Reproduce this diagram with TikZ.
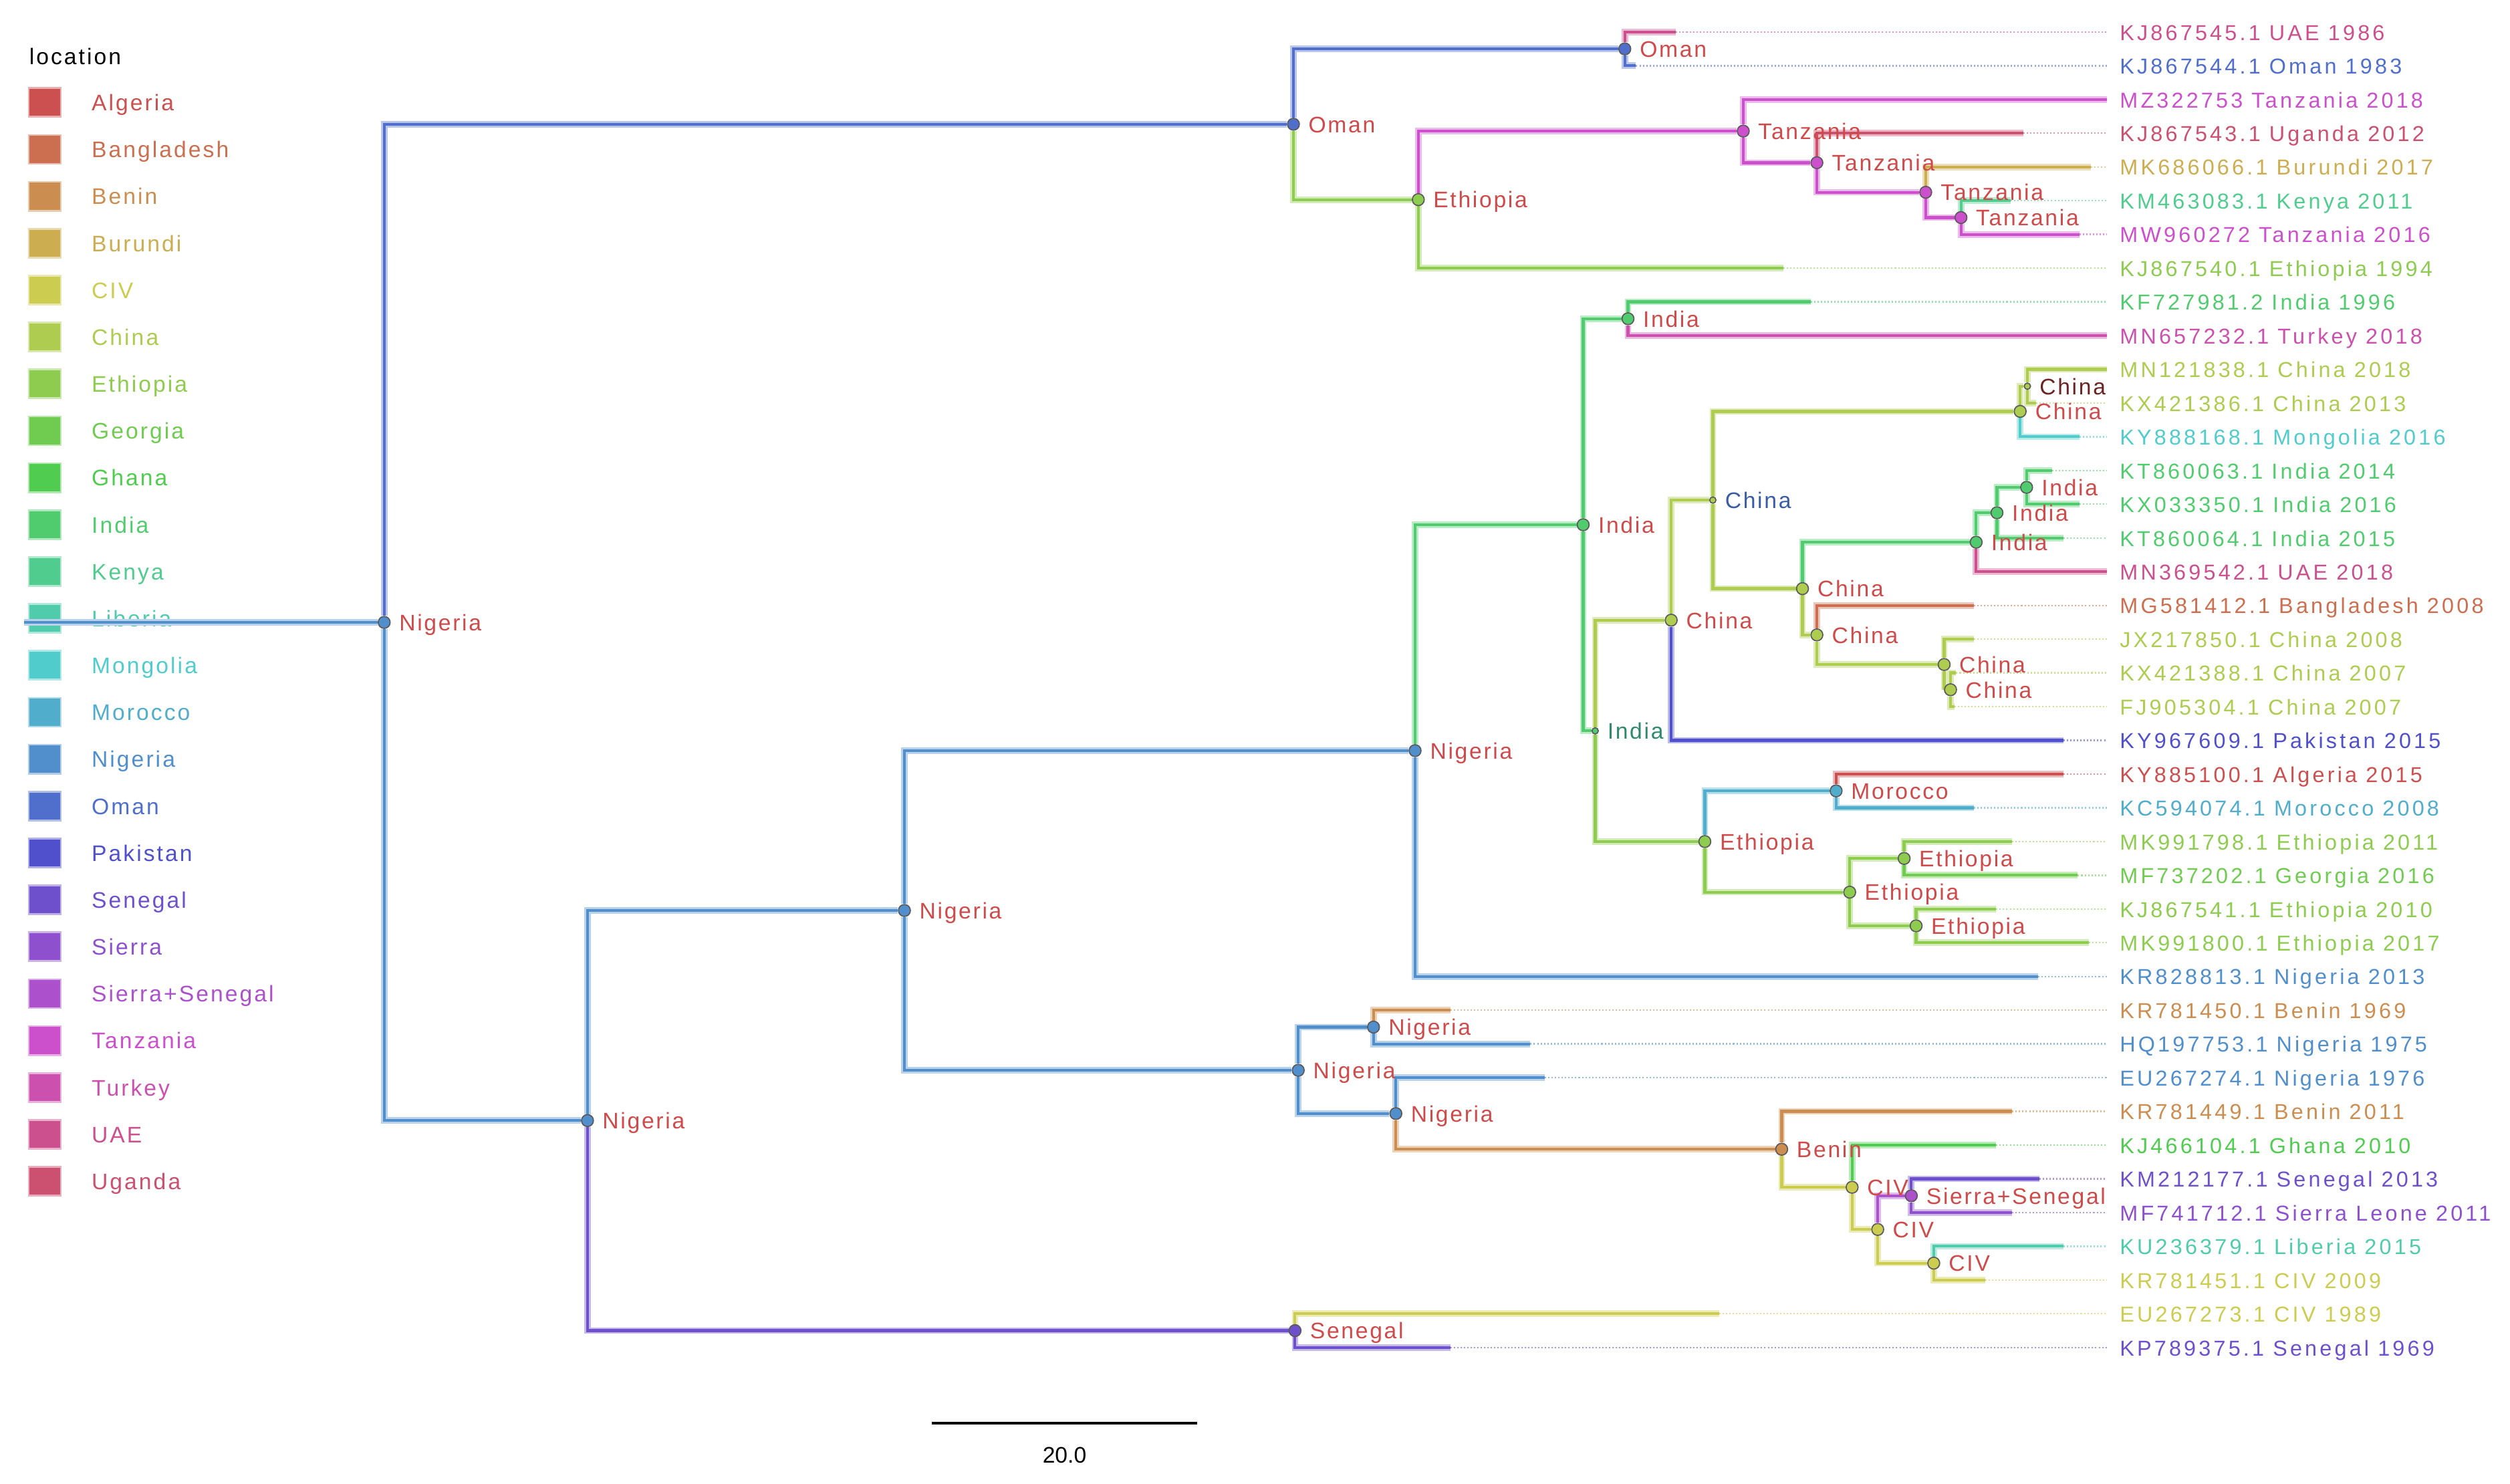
\documentclass[tikz,border=0pt]{standalone}
\usepackage{fontspec}
\setmainfont{Liberation Sans}
\newfontfamily\tipfont[LetterSpace=13]{Liberation Sans}
\newfontfamily\labfont[LetterSpace=8]{Liberation Sans}
\newfontfamily\legfont[LetterSpace=9]{Liberation Sans}
\usetikzlibrary{backgrounds}

% location colours (hue steps of 15 degrees)
\definecolor{cAlgeria}{RGB}{204,80,80}
\definecolor{cBangladesh}{RGB}{204,111,80}
\definecolor{cBenin}{RGB}{204,142,80}
\definecolor{cBurundi}{RGB}{204,173,80}
\definecolor{cCIV}{RGB}{204,204,80}
\definecolor{cChina}{RGB}{173,204,80}
\definecolor{cEthiopia}{RGB}{142,204,80}
\definecolor{cGeorgia}{RGB}{111,204,80}
\definecolor{cGhana}{RGB}{80,204,80}
\definecolor{cIndia}{RGB}{80,204,111}
\definecolor{cKenya}{RGB}{80,204,142}
\definecolor{cLiberia}{RGB}{80,204,173}
\definecolor{cMongolia}{RGB}{80,204,204}
\definecolor{cMorocco}{RGB}{80,173,204}
\definecolor{cNigeria}{RGB}{80,142,204}
\definecolor{cOman}{RGB}{80,111,204}
\definecolor{cPakistan}{RGB}{80,80,204}
\definecolor{cSenegal}{RGB}{111,80,204}
\definecolor{cSierra}{RGB}{142,80,204}
\definecolor{cSierraSenegal}{RGB}{173,80,204}
\definecolor{cTanzania}{RGB}{204,80,204}
\definecolor{cTurkey}{RGB}{204,80,173}
\definecolor{cUAE}{RGB}{204,80,142}
\definecolor{cUganda}{RGB}{204,80,111}
\definecolor{cLab}{HTML}{CF4A4A}
\definecolor{cLabBlue}{HTML}{3A5CA8}
\definecolor{cLabTeal}{HTML}{2E8A6A}
\definecolor{cLabDark}{HTML}{6A2424}

\tikzset{
  br/.style={draw=#1, line width=1.25pt, preaction={draw=#1!40, line width=2.9pt}},
  leader/.style={draw=#1!60, line width=0.7pt, dash pattern=on 0.6pt off 0.9pt, shorten >=2mm},
  inode/.style={circle, draw=black!65, line width=0.5pt, fill=#1, inner sep=0pt, minimum size=5.3pt},
  snode/.style={inode=#1, minimum size=2.8pt},
  nlab/.style={font=\labfont\fontsize{10}{12}\selectfont, text=cLab, inner sep=0.6pt, anchor=mid west, yshift=-1pt},
  tiplab/.style={font=\tipfont\fontsize{9.6}{11}\selectfont, inner sep=0pt, anchor=mid west, yshift=-1pt},
  legbox/.style={minimum width=0.5cm, minimum height=0.45cm, inner sep=0pt, line width=0.8pt},
  leglab/.style={font=\legfont\fontsize{10}{12}\selectfont, inner sep=0pt, anchor=mid west, yshift=-1pt},
  every label/.style={label distance=3pt}
}

\begin{document}
\begin{tikzpicture}[x=0.025cm, y=-0.025cm]
\useasboundingbox (0,0) rectangle (1568,927);

% legend
\node[leglab, text=black] (ktitle) at (18,35) {location};
\foreach \name/\col [count=\i from 0] in {Algeria/cAlgeria, Bangladesh/cBangladesh,
    Benin/cBenin, Burundi/cBurundi, CIV/cCIV, China/cChina, Ethiopia/cEthiopia,
    Georgia/cGeorgia, Ghana/cGhana, India/cIndia, Kenya/cKenya, Liberia/cLiberia,
    Mongolia/cMongolia, Morocco/cMorocco, Nigeria/cNigeria, Oman/cOman,
    Pakistan/cPakistan, Senegal/cSenegal, Sierra/cSierra, Sierra+Senegal/cSierraSenegal,
    Tanzania/cTanzania, Turkey/cTurkey, UAE/cUAE, Uganda/cUganda}
{
  \node[legbox, fill=\col, draw=\col!45] (k\i) at (28,{64+\i*29.3}) {};
  \node[leglab, text=\col] (kl\i) at (57,{64+\i*29.3}) {\name};
}

% tips: row / end of branch / colour / name
\foreach \i/\ex/\col/\txt in {
  1/1047/cUAE/KJ867545.1 UAE 1986, 2/1022/cOman/KJ867544.1 Oman 1983,
  3/1316/cTanzania/MZ322753 Tanzania 2018, 4/1264/cUganda/KJ867543.1 Uganda 2012,
  5/1306/cBurundi/MK686066.1 Burundi 2017, 6/1256/cKenya/KM463083.1 Kenya 2011,
  7/1299/cTanzania/MW960272 Tanzania 2016, 8/1114/cEthiopia/KJ867540.1 Ethiopia 1994,
  9/1131/cIndia/KF727981.2 India 1996, 10/1316/cTurkey/MN657232.1 Turkey 2018,
  11/1316/cChina/MN121838.1 China 2018, 12/1272/cChina/KX421386.1 China 2013,
  13/1299/cMongolia/KY888168.1 Mongolia 2016, 14/1282/cIndia/KT860063.1 India 2014,
  15/1299/cIndia/KX033350.1 India 2016, 16/1289/cIndia/KT860064.1 India 2015,
  17/1316/cUAE/MN369542.1 UAE 2018, 18/1233/cBangladesh/MG581412.1 Bangladesh 2008,
  19/1233/cChina/JX217850.1 China 2008, 20/1222/cChina/KX421388.1 China 2007,
  21/1221/cChina/FJ905304.1 China 2007, 22/1289/cPakistan/KY967609.1 Pakistan 2015,
  23/1289/cAlgeria/KY885100.1 Algeria 2015, 24/1233/cMorocco/KC594074.1 Morocco 2008,
  25/1257/cEthiopia/MK991798.1 Ethiopia 2011, 26/1298/cGeorgia/MF737202.1 Georgia 2016,
  27/1247/cEthiopia/KJ867541.1 Ethiopia 2010, 28/1305/cEthiopia/MK991800.1 Ethiopia 2017,
  29/1273/cNigeria/KR828813.1 Nigeria 2013, 30/906/cBenin/KR781450.1 Benin 1969,
  31/956/cNigeria/HQ197753.1 Nigeria 1975, 32/965/cNigeria/EU267274.1 Nigeria 1976,
  33/1257/cBenin/KR781449.1 Benin 2011, 34/1247/cGhana/KJ466104.1 Ghana 2010,
  35/1274/cSenegal/KM212177.1 Senegal 2013, 36/1257/cSierra/MF741712.1 Sierra Leone 2011,
  37/1289/cLiberia/KU236379.1 Liberia 2015, 38/1240/cCIV/KR781451.1 CIV 2009,
  39/1074/cCIV/EU267273.1 CIV 1989, 40/906/cSenegal/KP789375.1 Senegal 1969}
{
  \pgfmathsetmacro\ty{20+(\i-1)*21.07}
  \coordinate (t\i) at (\ex,\ty);
  \node[tiplab, text=\col] (l\i) at (1324,\ty) {\txt};
  \draw[leader=\col] (t\i) -- (t\i -| l\i.west);
}

% internal nodes
\coordinate (r0) at (15,388.8);
\node[inode=cNigeria, label={[nlab]right:Nigeria}] (R) at (240,388.8) {};
\node[inode=cOman, label={[nlab]right:Oman}] (A) at (808,77.6) {};
\node[inode=cOman, label={[nlab]right:Oman}] (O1) at (1015,30.55) {};
\node[inode=cEthiopia, label={[nlab]right:Ethiopia}] (E1) at (886,124.7) {};
\node[inode=cTanzania, label={[nlab]right:Tanzania}] (T1) at (1089,81.9) {};
\node[inode=cTanzania, label={[nlab]right:Tanzania}] (T2) at (1135,101.65) {};
\node[inode=cTanzania, label={[nlab]right:Tanzania}] (T3) at (1203,120.1) {};
\node[inode=cTanzania, label={[nlab]right:Tanzania}] (T4) at (1225,135.9) {};
\node[inode=cNigeria, label={[nlab]right:Nigeria}] (B) at (367,700) {};
\node[inode=cSenegal, label={[nlab]right:Senegal}] (S) at (809,831.2) {};
\node[inode=cNigeria, label={[nlab]right:Nigeria}] (C) at (565,568.75) {};
\node[inode=cNigeria, label={[nlab]right:Nigeria}] (D) at (884,468.9) {};
\node[inode=cNigeria, label={[nlab]right:Nigeria}] (F) at (811,668.6) {};
\node[inode=cNigeria, label={[nlab]right:Nigeria}] (G) at (858,641.6) {};
\node[inode=cNigeria, label={[nlab]right:Nigeria}] (H) at (872,695.6) {};
\node[inode=cBenin, label={[nlab]right:Benin}] (Bn) at (1113,717.9) {};
\node[inode=cCIV, label={[nlab]right:CIV}] (CV1) at (1157,741.65) {};
\node[inode=cCIV, label={[nlab]right:CIV}] (CV2) at (1173,768) {};
\node[inode=cSierraSenegal, label={[nlab]right:Sierra+Senegal}] (SS) at (1194,746.95) {};
\node[inode=cCIV, label={[nlab]right:CIV}] (CV3) at (1208,789.05) {};
\node[inode=cIndia, label={[nlab]right:India}] (I1) at (989,327.8) {};
\node[inode=cIndia, label={[nlab]right:India}] (I2) at (1017,199.1) {};
\node[snode=cIndia, label={[nlab, text=cLabTeal]right:India}] (I3) at (996.5,456.55) {};
\node[inode=cChina, label={[nlab]right:China}] (Ch1) at (1044,387.4) {};
\node[snode=cChina, label={[nlab, text=cLabBlue]right:China}] (Ch2) at (1070,312.4) {};
\node[inode=cChina, label={[nlab]right:China}] (Ch3) at (1262,257) {};
\node[snode=cChina, label={[nlab, text=cLabDark]right:China}] (Ch5) at (1266.5,241.25) {};
\node[inode=cChina, label={[nlab]right:China}] (Ch4) at (1126,367.7) {};
\node[inode=cIndia, label={[nlab]right:India}] (In1) at (1234.5,338.7) {};
\node[inode=cIndia, label={[nlab]right:India}] (In2) at (1247.5,320.3) {};
\node[inode=cIndia, label={[nlab]right:India}] (In3) at (1266,304.45) {};
\node[inode=cChina, label={[nlab]right:China}] (Ch6) at (1135,396.6) {};
\node[inode=cChina, label={[nlab]right:China}] (Ch7) at (1214.5,415.1) {};
\node[inode=cChina, label={[nlab]right:China}] (Ch8) at (1218.5,430.85) {};
\node[inode=cEthiopia, label={[nlab]right:Ethiopia}] (Et1) at (1065,525.7) {};
\node[inode=cMorocco, label={[nlab]right:Morocco}] (Mo) at (1147,494.05) {};
\node[inode=cEthiopia, label={[nlab]right:Ethiopia}] (Et2) at (1155.5,557.3) {};
\node[inode=cEthiopia, label={[nlab]right:Ethiopia}] (Et3) at (1189.5,536.25) {};
\node[inode=cEthiopia, label={[nlab]right:Ethiopia}] (Et4) at (1197,578.35) {};

% root stub lies over the legend
\draw[br=cNigeria] (r0) -- (R);

% branches, coloured by the child's location
\begin{scope}[on background layer]
\fill[white] (0,0) rectangle (1568,927);
\foreach \p/\c/\col in {R/A/cOman, R/B/cNigeria,
    A/O1/cOman, A/E1/cEthiopia, O1/t1/cUAE, O1/t2/cOman,
    E1/T1/cTanzania, E1/t8/cEthiopia, T1/t3/cTanzania, T1/T2/cTanzania,
    T2/t4/cUganda, T2/T3/cTanzania, T3/t5/cBurundi, T3/T4/cTanzania,
    T4/t6/cKenya, T4/t7/cTanzania,
    B/C/cNigeria, B/S/cSenegal, S/t39/cCIV, S/t40/cSenegal,
    C/D/cNigeria, C/F/cNigeria, D/I1/cIndia, D/t29/cNigeria,
    I1/I2/cIndia, I1/I3/cIndia, I2/t9/cIndia, I2/t10/cTurkey,
    I3/Ch1/cChina, I3/Et1/cEthiopia, Ch1/Ch2/cChina, Ch1/t22/cPakistan,
    Ch2/Ch3/cChina, Ch2/Ch4/cChina, Ch3/Ch5/cChina, Ch3/t13/cMongolia,
    Ch5/t11/cChina, Ch5/t12/cChina, Ch4/In1/cIndia, Ch4/Ch6/cChina,
    In1/In2/cIndia, In1/t17/cUAE, In2/In3/cIndia, In2/t16/cIndia,
    In3/t14/cIndia, In3/t15/cIndia, Ch6/t18/cBangladesh, Ch6/Ch7/cChina,
    Ch7/t19/cChina, Ch7/Ch8/cChina, Ch8/t20/cChina, Ch8/t21/cChina,
    Et1/Mo/cMorocco, Et1/Et2/cEthiopia, Mo/t23/cAlgeria, Mo/t24/cMorocco,
    Et2/Et3/cEthiopia, Et2/Et4/cEthiopia, Et3/t25/cEthiopia, Et3/t26/cGeorgia,
    Et4/t27/cEthiopia, Et4/t28/cEthiopia,
    F/G/cNigeria, F/H/cNigeria, G/t30/cBenin, G/t31/cNigeria,
    H/t32/cNigeria, H/Bn/cBenin, Bn/t33/cBenin, Bn/CV1/cCIV,
    CV1/t34/cGhana, CV1/CV2/cCIV, CV2/SS/cSierraSenegal, CV2/CV3/cCIV,
    SS/t35/cSenegal, SS/t36/cSierra, CV3/t37/cLiberia, CV3/t38/cCIV}
  \draw[br=\col] (\p) |- (\c);
\end{scope}

% scale bar
\coordinate (sbL) at (582,889);
\coordinate (sbR) at (748,889);
\draw[line width=1.4pt] (sbL) -- (sbR);
\node[font=\fontsize{10}{12}\selectfont, inner sep=0pt] (sbT) at (665,909) {20.0};
\end{tikzpicture}
\end{document}
